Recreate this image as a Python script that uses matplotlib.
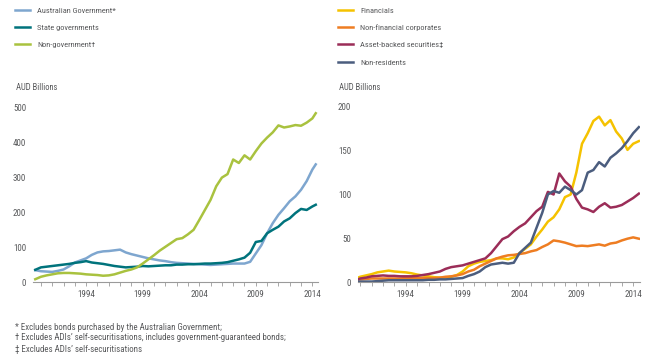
# Australian bonds outstanding by issuer - two panel line chart #

import numpy as np
import matplotlib
matplotlib.use('Agg')
import matplotlib.pyplot as plt
from matplotlib.ticker import MultipleLocator

plt.rcParams['font.family'] = ['Roboto Condensed', 'DejaVu Sans']

# left panel: issuers of government / non-government bonds
left_dates = [1989.5, 1990, 1990.5, 1991, 1991.5, 1992, 1992.5, 1993, 1993.5, 1994,
              1994.5, 1995, 1995.5, 1996, 1996.5, 1997, 1997.5, 1998, 1998.5, 1999,
              1999.5, 2000, 2000.5, 2001, 2001.5, 2002, 2002.5, 2003, 2003.5, 2004,
              2004.5, 2005, 2005.5, 2006, 2006.5, 2007, 2007.5, 2008, 2008.5, 2009,
              2009.5, 2010, 2010.5, 2011, 2011.5, 2012, 2012.5, 2013, 2013.5, 2014, 2014.3]
aus_gov = [34, 31, 30, 29, 32, 36, 45, 56, 62, 68,
           78, 85, 88, 89, 91, 93, 85, 80, 76, 72,
           68, 65, 62, 60, 57, 55, 54, 53, 52, 51,
           50, 49, 50, 51, 52, 53, 53, 53, 58, 82,
           106, 140, 169, 193, 212, 232, 246, 265, 290, 323, 338]
state_gov = [35, 42, 44, 46, 48, 50, 52, 55, 57, 60,
             56, 54, 52, 49, 46, 44, 42, 43, 44, 46,
             45, 46, 47, 48, 48, 50, 50, 51, 51, 52,
             53, 53, 54, 55, 57, 61, 65, 70, 84, 115,
             118, 140, 150, 159, 174, 183, 198, 210, 207, 217, 222]
non_gov = [8, 15, 19, 22, 25, 26, 26, 25, 24, 22,
           21, 20, 18, 19, 22, 27, 32, 36, 42, 53,
           65, 77, 90, 101, 112, 123, 126, 137, 150, 178,
           207, 236, 275, 300, 310, 352, 342, 364, 352, 376,
           398, 415, 430, 450, 444, 447, 451, 449, 458, 470, 485]

# right panel: non-government issuers
right_dates = [1989.8, 1990, 1990.5, 1991, 1991.5, 1992, 1992.5, 1993, 1993.5, 1994,
               1994.5, 1995, 1995.5, 1996, 1996.5, 1997, 1997.5, 1998, 1998.5, 1999,
               1999.5, 2000, 2000.5, 2001, 2001.5, 2002, 2002.5, 2003, 2003.5, 2004,
               2004.5, 2005, 2005.5, 2006, 2006.5, 2007, 2007.5, 2008, 2008.5, 2009,
               2009.5, 2010, 2010.5, 2011, 2011.5, 2012, 2012.5, 2013, 2013.5, 2014, 2014.5]
financials = [5, 6, 7.5, 9, 11, 12, 13, 12, 11.5, 11,
              10, 8.5, 7.5, 6.5, 5.5, 5, 5, 6, 8, 12,
              18, 21, 23, 24, 25, 27, 27, 26, 28, 33,
              38, 43, 52, 60, 69, 74, 83, 97, 100, 125,
              158, 170, 184, 189, 179, 185, 172, 164, 151, 158, 161]
non_fin_corp = [3, 3, 3.5, 4, 4, 4, 4, 4, 4, 4.5,
                4.5, 4.5, 4.5, 4.5, 4.5, 5, 6, 6.5, 7.5, 9,
                12, 14, 18, 21, 24, 27, 29, 30.5, 31, 32,
                33, 35, 36.5, 40, 43, 47.5, 46.5, 45, 43, 41,
                41.5, 41, 42, 43, 41.5, 44, 45, 47.5, 49.5, 51, 49.5]
abs_sec = [3, 4, 5, 6.5, 7, 7.5, 7, 7, 6.5, 6.5,
           6.5, 7, 8, 9, 10.5, 12, 15, 17, 18, 19,
           21, 23, 25, 27, 33, 41, 49, 52, 58, 63,
           67, 74, 81, 86, 103, 100, 124, 115, 109, 95,
           85, 83, 80, 86, 90, 85, 86, 88, 92, 96, 101]
non_res = [0.5, 0.5, 0.5, 0.5, 1, 1.5, 2, 2, 2, 2,
           2, 2, 2, 2.5, 2.5, 3, 3, 3.5, 4, 4.5,
           7, 9, 12, 17, 20, 21, 22, 21, 22, 33,
           39, 45, 62, 79, 100, 104, 102, 109, 105, 100,
           105, 125, 128, 137, 132, 142, 147, 153, 161, 170, 177]

year_ticks = [1994, 1999, 2004, 2009, 2014]
txt = '#58595b'
fs = 6.5

fig = plt.figure(figsize=(6.5, 3.54), dpi=100)
W, H = 650.0, 354.0
axL = fig.add_axes([33 / W, 1 - 282 / H, 285 / W, 174 / H])
axR = fig.add_axes([358 / W, 1 - 282 / H, 282 / W, 175 / H])


def style(ax, xlim, ymax, ystep):
    ax.set_xlim(*xlim)
    ax.set_ylim(0, ymax)
    ax.set_yticks(np.arange(0, ymax + 1, ystep))
    ax.set_xticks(year_ticks)
    ax.xaxis.set_minor_locator(MultipleLocator(1))
    for s in ['top', 'right', 'left']:
        ax.spines[s].set_visible(False)
    ax.spines['bottom'].set_color('#9a9a9a')
    ax.spines['bottom'].set_linewidth(0.8)
    ax.tick_params(axis='y', length=0, pad=5, labelsize=fs, labelcolor=txt)
    ax.tick_params(axis='x', which='both', length=3, width=0.6, color='#9a9a9a',
                   pad=3, labelsize=fs, labelcolor=txt)
    ax.set_facecolor('none')


lw = 1.8
l1, = axL.plot(left_dates, aus_gov, color='#7ea6cf', lw=lw, label='Australian Government*')
l2, = axL.plot(left_dates, state_gov, color='#00737c', lw=lw, label='State governments')
l3, = axL.plot(left_dates, non_gov, color='#a9c23f', lw=lw, label='Non-government\u2020')
style(axL, (1989.3, 2014.5), 500, 100)

r1, = axR.plot(right_dates, financials, color='#f5c200', lw=lw, label='Financials')
r2, = axR.plot(right_dates, non_fin_corp, color='#ee7d22', lw=lw, label='Non-financial corporates')
r3, = axR.plot(right_dates, abs_sec, color='#9b2d58', lw=lw, label='Asset-backed securities\u2021')
r4, = axR.plot(right_dates, non_res, color='#4b5d7e', lw=lw, label='Non-residents')
style(axR, (1989.8, 2014.6), 200, 50)

leg_fs = 6.0
leg_kw = dict(loc='upper left', frameon=False, fontsize=leg_fs, handlelength=1.85,
              handletextpad=0.8, labelspacing=1.25, borderpad=0, borderaxespad=0,
              bbox_transform=fig.transFigure)
legL = fig.legend(handles=[l1, l2, l3], bbox_to_anchor=(15 / W, 1 - 7 / H), **leg_kw)
legR = fig.legend(handles=[r1, r2, r3, r4], bbox_to_anchor=(338 / W, 1 - 7 / H), **leg_kw)
for lg in (legL, legR):
    for t in lg.get_texts():
        t.set_color(txt)

fig.text(16 / W, 1 - 88 / H, 'AUD Billions', fontsize=6.2, color=txt, va='center')
fig.text(339 / W, 1 - 88 / H, 'AUD Billions', fontsize=6.2, color=txt, va='center')

notes = ['* Excludes bonds purchased by the Australian Government;',
         '\u2020 Excludes ADIs\u2019 self-securitisations, includes government-guaranteed bonds;',
         '\u2021 Excludes ADIs\u2019 self-securitisations']
for i, n in enumerate(notes):
    fig.text(15 / W, 1 - (327 + 11 * i) / H, n, fontsize=6.4, color=txt, va='center')

fig.savefig('out.png', dpi=100)
